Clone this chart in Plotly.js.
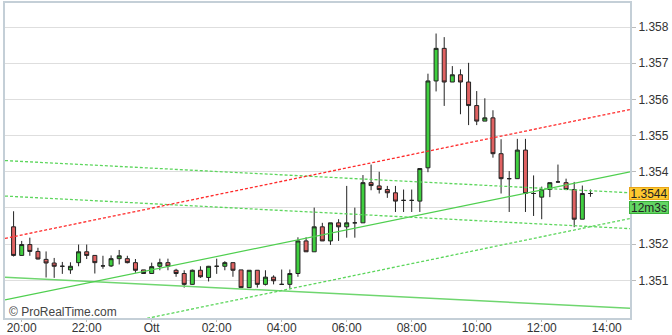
<!DOCTYPE html>
<html>
<head>
<meta charset="utf-8">
<script src="https://cdn.plot.ly/plotly-3.0.1.min.js"></script>
<style>html,body{margin:0;padding:0;background:#fff;}#chart{width:672px;height:335px;}</style>
</head>
<body>
<div id="chart"></div>
<script>
// 15-minute bars, evening of day 1 to early afternoon of day 2
const times = ["19:45","20:00","20:15","20:30","20:45","21:00","21:15","21:30","21:45","22:00","22:15","22:30","22:45","23:00","23:15","23:30","23:45",
"00:00","00:15","00:30","00:45","01:00","01:15","01:30","01:45","02:00","02:15","02:30","02:45","03:00","03:15","03:30","03:45",
"04:00","04:15","04:30","04:45","05:00","05:15","05:30","05:45","06:00","06:15","06:30","06:45","07:00","07:15","07:30","07:45",
"08:00","08:15","08:30","08:45","09:00","09:15","09:30","09:45","10:00","10:15","10:30","10:45","11:00","11:15","11:30","11:45",
"12:00","12:15","12:30","12:45","13:00","13:15","13:30"];
const openP = [1.35248,1.35169,1.35199,1.35180,1.35158,1.35148,1.35139,1.35129,1.35149,1.35179,1.35169,1.35140,1.35140,1.35160,1.35160,1.35149,1.35129,
1.35119,1.35139,1.35149,1.35128,1.35119,1.35089,1.35128,1.35108,1.35139,1.35139,1.35149,1.35129,1.35080,1.35128,1.35089,1.35109,
1.35089,1.35089,1.35119,1.35209,1.35179,1.35248,1.35209,1.35259,1.35248,1.35259,1.35259,1.35370,1.35361,1.35351,1.35342,1.35321,
1.35321,1.35319,1.35411,1.35651,1.35741,1.35648,1.35668,1.35648,1.35583,1.35540,1.35549,1.35450,1.35381,1.35381,1.35460,1.35340,
1.35330,1.35351,1.35372,1.35370,1.35351,1.35269,1.35340];
const highP = [1.35291,1.35209,1.35218,1.35190,1.35180,1.35162,1.35151,1.35150,1.35199,1.35199,1.35169,1.35168,1.35169,1.35184,1.35168,1.35159,1.35129,
1.35149,1.35160,1.35160,1.35132,1.35128,1.35130,1.35139,1.35140,1.35160,1.35153,1.35149,1.35129,1.35128,1.35128,1.35128,1.35114,
1.35130,1.35130,1.35219,1.35219,1.35301,1.35259,1.35259,1.35269,1.35361,1.35301,1.35391,1.35420,1.35400,1.35361,1.35361,1.35351,
1.35351,1.35409,1.35671,1.35782,1.35772,1.35692,1.35683,1.35701,1.35623,1.35603,1.35570,1.35490,1.35402,1.35491,1.35491,1.35390,
1.35359,1.35370,1.35420,1.35381,1.35372,1.35362,1.35351];
const lowP = [1.35166,1.35168,1.35168,1.35158,1.35108,1.35107,1.35118,1.35118,1.35139,1.35159,1.35119,1.35132,1.35137,1.35144,1.35147,1.35121,1.35119,
1.35119,1.35128,1.35128,1.35110,1.35080,1.35088,1.35107,1.35097,1.35118,1.35128,1.35110,1.35080,1.35080,1.35080,1.35086,1.35089,
1.35088,1.35079,1.35110,1.35179,1.35179,1.35209,1.35198,1.35209,1.35218,1.35218,1.35259,1.35349,1.35340,1.35328,1.35289,1.35289,
1.35289,1.35289,1.35399,1.35622,1.35582,1.35648,1.35559,1.35529,1.35529,1.35540,1.35439,1.35340,1.35289,1.35381,1.35289,1.35278,
1.35269,1.35330,1.35370,1.35351,1.35247,1.35269,1.35331];
const closeP = [1.35169,1.35199,1.35180,1.35159,1.35148,1.35139,1.35139,1.35139,1.35179,1.35169,1.35149,1.35140,1.35160,1.35168,1.35149,1.35128,1.35119,
1.35138,1.35149,1.35139,1.35119,1.35089,1.35128,1.35110,1.35139,1.35139,1.35149,1.35128,1.35080,1.35128,1.35089,1.35109,1.35099,
1.35089,1.35119,1.35209,1.35179,1.35248,1.35209,1.35259,1.35248,1.35259,1.35259,1.35370,1.35362,1.35351,1.35342,1.35319,1.35321,
1.35321,1.35409,1.35651,1.35741,1.35648,1.35668,1.35648,1.35583,1.35540,1.35549,1.35450,1.35381,1.35381,1.35460,1.35340,1.35340,
1.35351,1.35370,1.35372,1.35351,1.35269,1.35340,1.35340];

// trend lines: value at left edge and at right edge of the view
const viewStart = "2012-10-04 19:29:10";
const viewEnd = "2012-10-05 14:43:00";
const redChannel = [1.35216, 1.35572];
const greenUp = [1.35046, 1.35400];
const greenDown = [1.35109, 1.35023];
const dottedA = [1.35431, 1.35342];
const dottedB = [1.35333, 1.35243];
const dottedC = [1.34914, 1.35271];

const tickTimes = ["2012-10-04 20:00","2012-10-04 22:00","2012-10-05 00:00","2012-10-05 02:00","2012-10-05 04:00","2012-10-05 06:00","2012-10-05 08:00","2012-10-05 10:00","2012-10-05 12:00","2012-10-05 14:00"];
const tickLabels = ["20:00","22:00","Ott","02:00","04:00","06:00","08:00","10:00","12:00","14:00"];
const yTicks = [1.351,1.352,1.353,1.354,1.355,1.356,1.357,1.358];
const yLabels = ["1.351","1.352","","1.354","1.355","1.356","1.357","1.358"];
const lastPriceText = "1.3544";
const timerText = "12m3s";

const xDates = times.map(t => (t >= "19:00" ? "2012-10-04 " : "2012-10-05 ") + t);
const lineX = [viewStart, viewEnd];

const font = "Liberation Sans, Arial, sans-serif";
function tline(vals, color, dash, width) {
  return {type:"scatter", mode:"lines", x:lineX, y:vals, hoverinfo:"skip",
    line:{color:color, dash:dash, width:width}, showlegend:false};
}
const traces = [
  tline(greenDown, "#6fd66f", "solid", 1.5),
  tline(greenUp, "#4fcf4f", "solid", 1.2),
  tline(dottedA, "#5cd65c", "3px,2px", 1.3),
  tline(dottedB, "#5cd65c", "3px,2px", 1.3),
  tline(dottedC, "#5cd65c", "3px,2px", 1.3),
  tline(redChannel, "#ff2b2b", "3px,2px", 1.3),
  {type:"candlestick", x:xDates, open:openP, high:highP, low:lowP, close:closeP,
   increasing:{fillcolor:"#3fcf3f", line:{color:"#222", width:1}},
   decreasing:{fillcolor:"#e06262", line:{color:"#222", width:1}},
   whiskerwidth:0, showlegend:false, hoverinfo:"skip"}
];
const lastClose = closeP[closeP.length-1];
const layout = {
  width:672, height:335,
  margin:{l:5, r:42, t:3, b:17},
  paper_bgcolor:"#fff", plot_bgcolor:"#fff",
  showlegend:false,
  font:{family:font, size:12, color:"#333"},
  xaxis:{type:"date", range:[viewStart, viewEnd], tickvals:tickTimes, ticktext:tickLabels,
    showgrid:false, zeroline:false, rangeslider:{visible:false},
    showline:true, mirror:true, linecolor:"#c4cfd7", linewidth:2,
    ticks:"outside", ticklen:2, tickcolor:"#bbb", ticklabelstandoff:-4,
    tickfont:{size:12, color:"#333"}},
  yaxis:{side:"right", range:[1.349961, 1.358663], tickvals:yTicks, ticktext:yLabels,
    showgrid:true, gridcolor:"#dedede", gridwidth:1, zeroline:false,
    showline:true, mirror:true, linecolor:"#c4cfd7", linewidth:2,
    ticks:"outside", ticklen:4, tickcolor:"#bbb", tickfont:{size:12, color:"#333"}},
  annotations:[
    {xref:"paper", yref:"paper", x:0.003, y:0, yshift:-3, xanchor:"left", yanchor:"bottom",
     text:"© ProRealTime.com", showarrow:false, font:{family:font, size:12, color:"#444"}},
    {xref:"paper", yref:"y", x:0.9985, y:lastClose, xanchor:"left", yanchor:"middle",
     text:lastPriceText, showarrow:false, width:38, height:11, borderpad:0, borderwidth:1,
     bgcolor:"#fdc930", bordercolor:"#e8a418", font:{family:font, size:12, color:"#222"}},
    {xref:"paper", yref:"y", x:0.9985, y:lastClose, yshift:-14, xanchor:"left", yanchor:"middle",
     text:timerText, showarrow:false, width:38, height:11, borderpad:0, borderwidth:1,
     bgcolor:"#63d663", bordercolor:"#3bb03b", font:{family:font, size:12, color:"#222"}}
  ]
};
Plotly.newPlot("chart", traces, layout, {staticPlot:true, displayModeBar:false});
</script>
</body>
</html>
